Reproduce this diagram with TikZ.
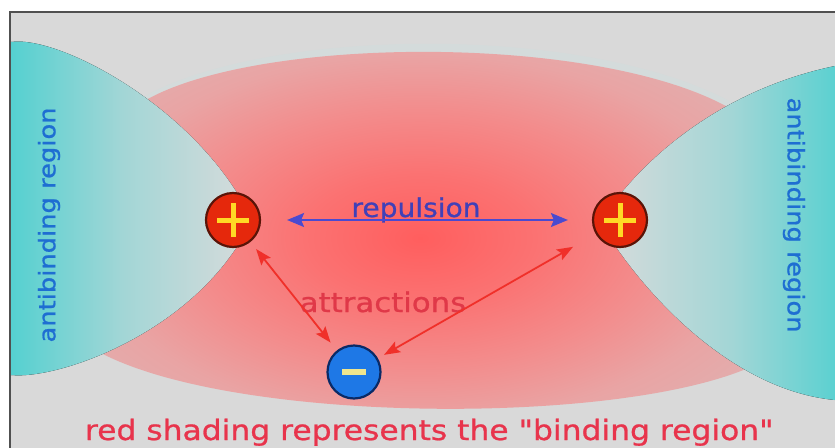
\documentclass[tikz,border=0pt]{standalone}
\usepackage{fontspec}
\usepackage{graphicx}
\newfontfamily\dv[FakeBold=0.8]{DejaVu Sans}
\usetikzlibrary{arrows.meta}
\definecolor{bgray}{HTML}{D9D9D9}
\definecolor{framegray}{HTML}{505050}
\definecolor{halocol}{HTML}{D4DBDB}
\definecolor{cy0}{HTML}{34CCCC}
\definecolor{cy1}{HTML}{44CFCF}
\definecolor{cy2}{HTML}{A2D6D6}
\definecolor{cy3}{HTML}{D8DBDB}
\definecolor{cy4}{HTML}{EDEAEA}
\definecolor{rc0}{HTML}{FF5E5E}
\definecolor{rc1}{HTML}{FB7272}
\definecolor{rc2}{HTML}{F38C8C}
\definecolor{rc3}{HTML}{E9A4A4}
\definecolor{rc4}{HTML}{E0B0B0}
\definecolor{rc5}{HTML}{DBB8B8}
\definecolor{rc6}{HTML}{D9BBBB}
\definecolor{nucred}{HTML}{E5280C}
\definecolor{nucedge}{HTML}{5A1408}
\definecolor{plusyel}{HTML}{FFD925}
\definecolor{nucblue}{HTML}{1E78E6}
\definecolor{blueedge}{HTML}{0A2A66}
\definecolor{minusyel}{HTML}{F0E68E}
\definecolor{repblue}{HTML}{4A4AD0}
\definecolor{reptext}{HTML}{4040B8}
\definecolor{attred}{HTML}{F0302A}
\definecolor{atttext}{HTML}{E03848}
\definecolor{captext}{HTML}{E8344C}
\definecolor{abblue}{HTML}{1E6ED2}
\pgfdeclareradialshading{redglow}{\pgfpoint{0bp}{0bp}}{color(0bp)=(rc0); color(8bp)=(rc1); color(16bp)=(rc2); color(23bp)=(rc3); color(30bp)=(rc4); color(40bp)=(rc5); color(50bp)=(rc6)}
\pgfdeclarehorizontalshading{lensL}{100bp}{color(0bp)=(cy0); color(20bp)=(cy1); color(48bp)=(cy2); color(75bp)=(cy3); color(100bp)=(cy4)}
\pgfdeclarehorizontalshading{lensR}{100bp}{color(0bp)=(cy4); color(25bp)=(cy3); color(52bp)=(cy2); color(80bp)=(cy1); color(100bp)=(cy0)}
\tikzset{
  poscirc/.style={circle, minimum size=54pt, inner sep=0pt, fill=nucred, draw=nucedge, line width=2.2pt},
  negcirc/.style={circle, minimum size=53pt, inner sep=0pt, fill=nucblue, draw=blueedge, line width=2.2pt},
  plusbar/.style={draw=plusyel, line width=5pt},
  minusbar/.style={draw=minusyel, line width=6pt},
  reparrow/.style={draw=repblue, line width=2pt, {Stealth[length=17pt,width=14pt,inset=3pt]}-{Stealth[length=17pt,width=14pt,inset=3pt]}},
  attarrow/.style={draw=attred, line width=1.8pt, {Stealth[length=16pt,width=12pt,inset=3pt]}-{Stealth[length=16pt,width=12pt,inset=3pt]}},
  lbl/.style={inner sep=0pt, outer sep=0pt}
}
\begin{document}
\begin{tikzpicture}[x=1pt,y=-1pt]
\useasboundingbox (0,0) rectangle (835,447);
\fill[white] (0,0) rectangle (835,447);
\fill[bgray] (10,12) rectangle (850,460);
% halo above the binding region
\fill[halocol] (105,128) .. controls (190,18) and (660,10) .. (780,138) -- cycle;
% red binding region
\begin{scope}
\clip (120,120) .. controls (200,30) and (650,25) .. (760,130) -- (780,350) .. controls (680,430) and (200,430) .. (80,340) -- cycle;
\begin{scope}[shift={(420,238)}, yscale=0.556]
\shade[shading=redglow] (-360,-360) rectangle (360,360);
\end{scope}
\end{scope}
% antibinding lenses
\fill[shading=lensL] (11,42) .. controls (60,35) and (200,110) .. (252,220) .. controls (200,330) and (60,380) .. (11,375) -- cycle;
\fill[shading=lensR] (845,60) -- (835,66) .. controls (720,90) and (640,160) .. (600,222) .. controls (640,290) and (730,390) .. (835,400) -- (845,405) -- cycle;
% frame
\draw[draw=framegray, line width=2pt] (850,12) -- (10,12) -- (10,460);
% nuclei and electron
\node[poscirc] (lp) at (233,220) {};
\node[poscirc] (rp) at (620,220) {};
\node[negcirc] (mn) at (354,372) {};
\draw[plusbar] ([xshift=-16pt]lp.center) -- ([xshift=16pt]lp.center);
\draw[plusbar] ([yshift=-17pt]lp.center) -- ([yshift=17pt]lp.center);
\draw[plusbar] ([xshift=-16pt]rp.center) -- ([xshift=16pt]rp.center);
\draw[plusbar] ([yshift=-17pt]rp.center) -- ([yshift=17pt]rp.center);
\draw[minusbar] ([xshift=-12pt]mn.center) -- ([xshift=12pt]mn.center);
% labels
\node[lbl, text=reptext, anchor=base, font=\dv\fontsize{26}{30}\selectfont] (rep) at (416,217) {\scalebox{1.08}[1]{repulsion}};
\node[lbl, text=atttext, anchor=base, font=\dv\fontsize{27}{31}\selectfont] (att) at (383,312) {\scalebox{1.14}[1]{attractions}};
\node[lbl, text=captext, anchor=base west, font=\dv\fontsize{28}{32}\selectfont] (cap) at (85,440) {\scalebox{1.12}[1]{red shading represents the "binding region"}};
\node[lbl, text=abblue, rotate=90, font=\dv\fontsize{23}{27}\selectfont] (abl) at (49,225) {\scalebox{1.12}[1]{antibinding region}};
\node[lbl, text=abblue, rotate=-90, font=\dv\fontsize{23}{27}\selectfont] (abr) at (794,215) {\scalebox{1.12}[1]{antibinding region}};
% forces
\draw[reparrow, shorten <=26pt, shorten >=24pt] (lp) -- (rp);
\draw[attarrow, shorten <=9pt, shorten >=10pt] (lp) -- (mn);
\draw[attarrow, shorten <=7pt, shorten >=26pt] (mn) -- (rp);
\end{tikzpicture}
\end{document}
